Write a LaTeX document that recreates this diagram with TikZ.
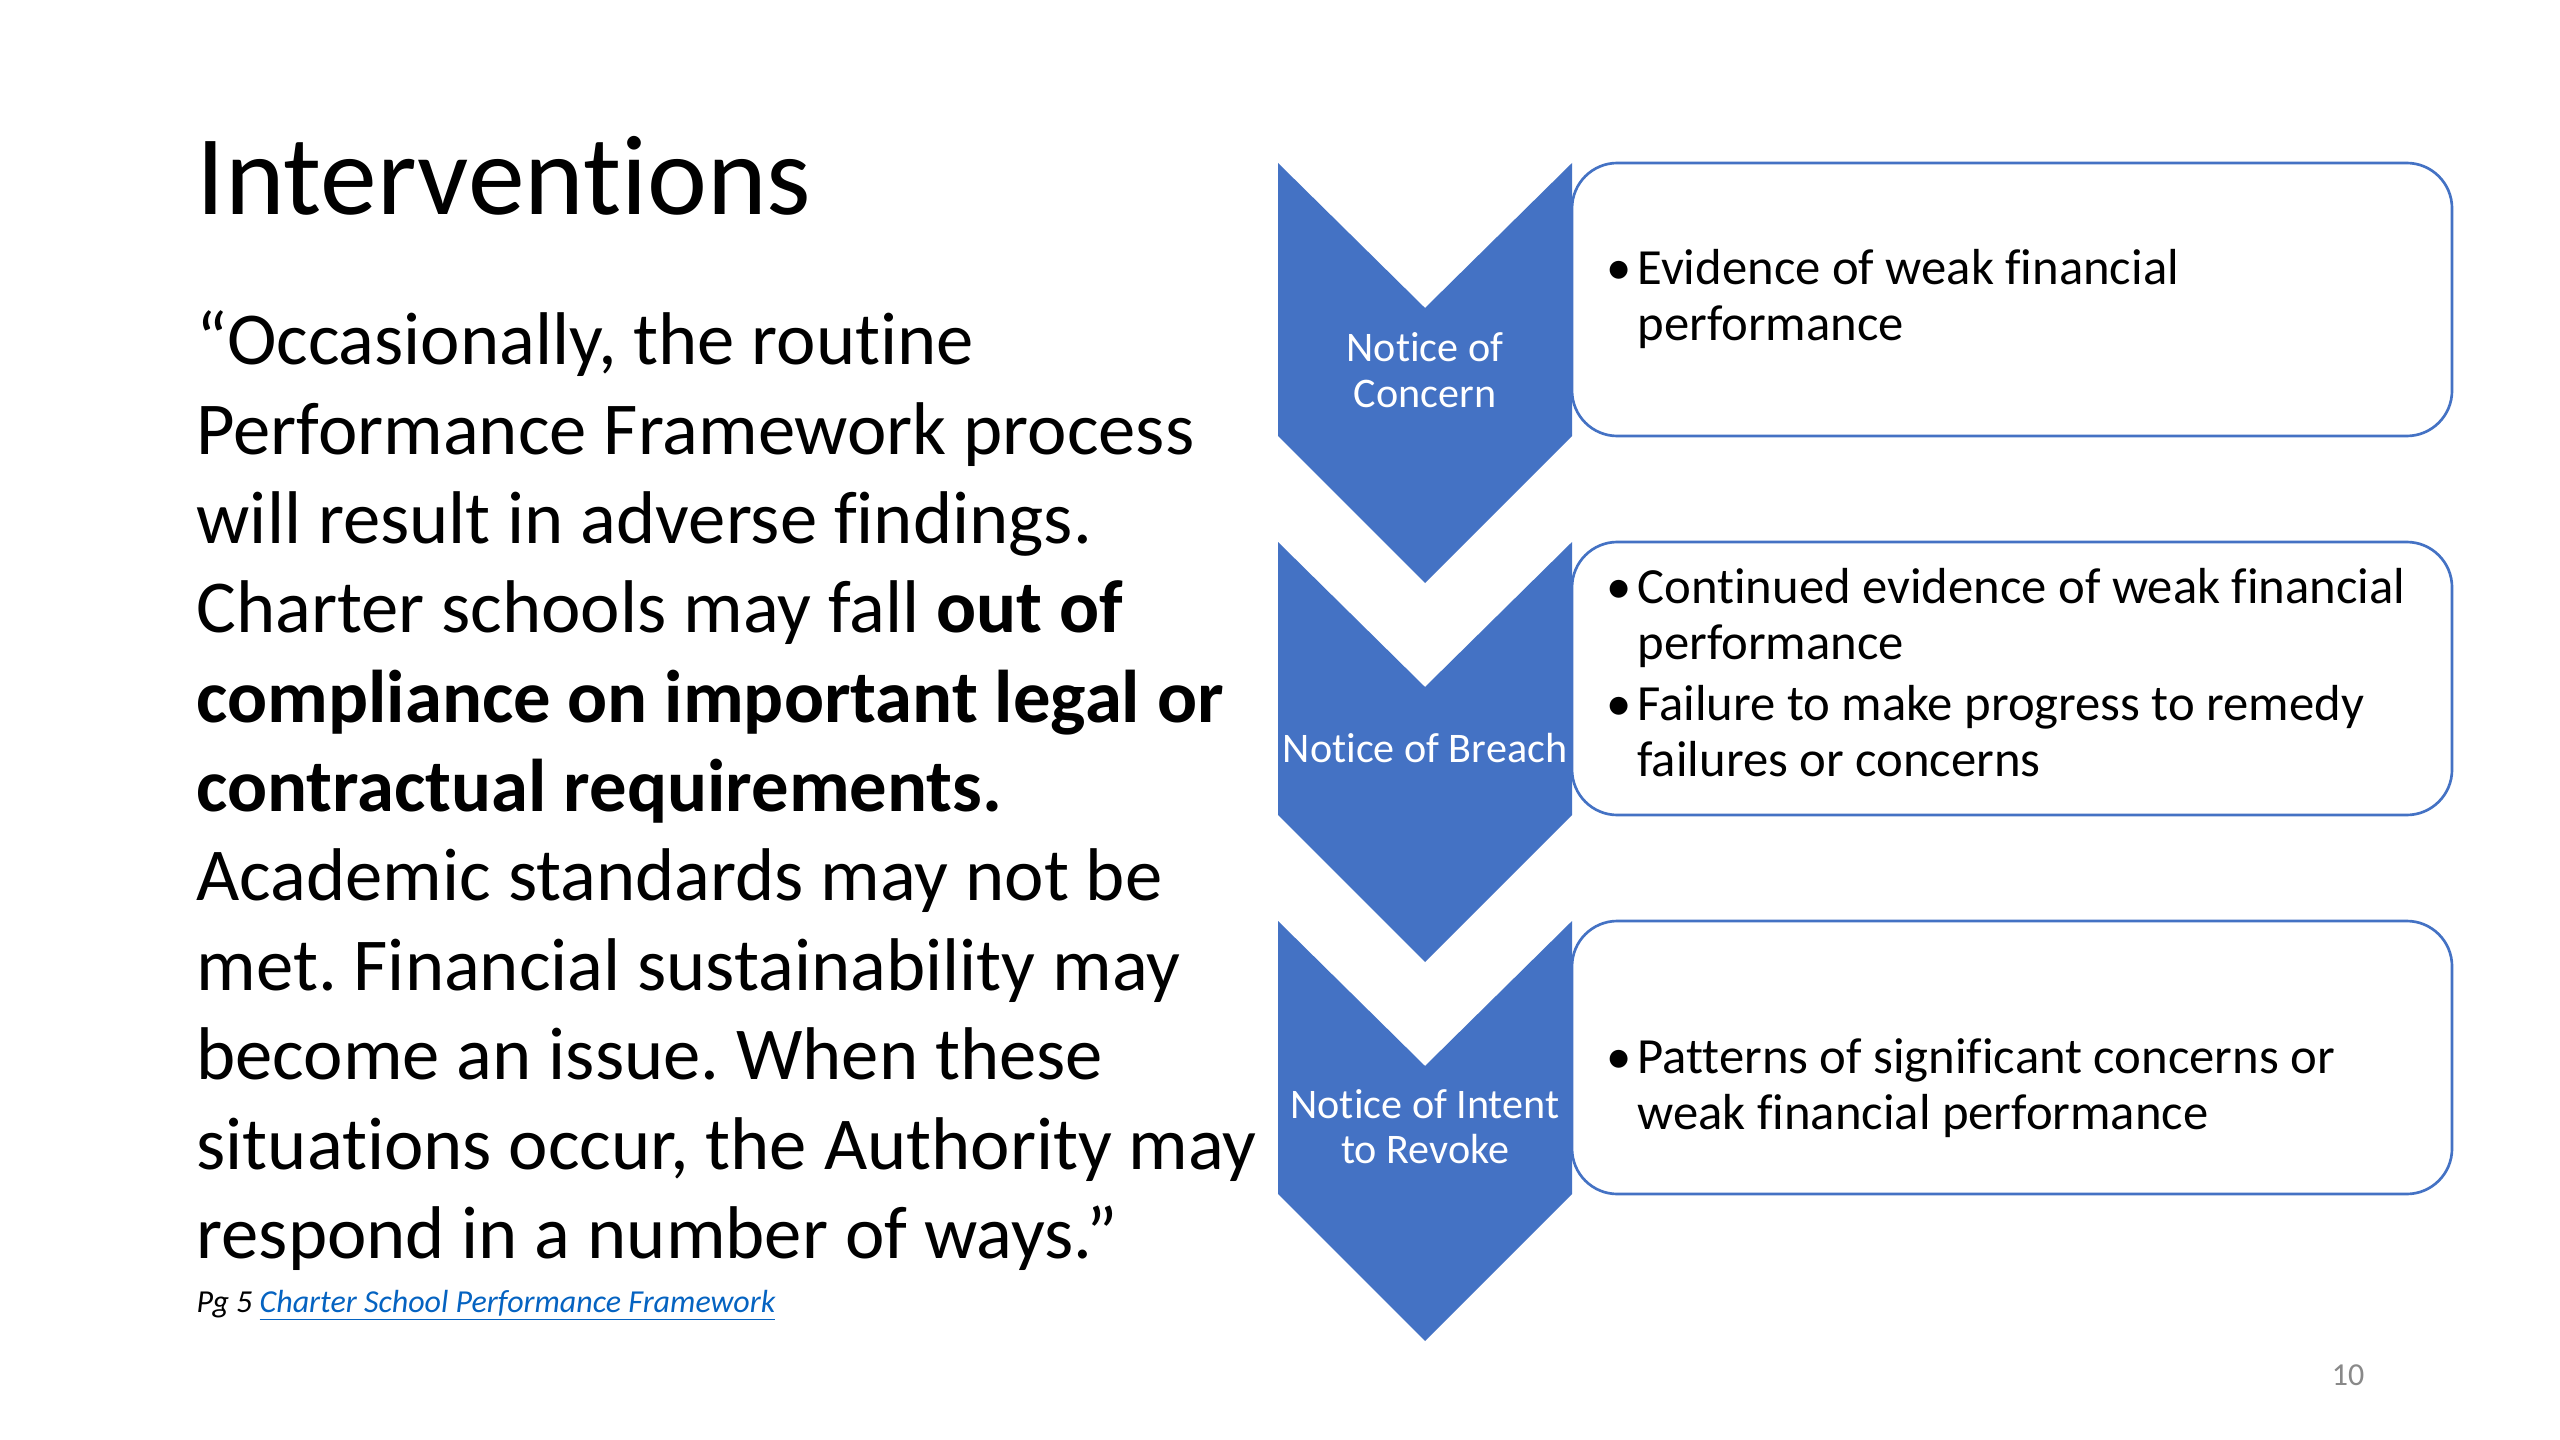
\documentclass[tikz,border=0pt]{standalone}
\usepackage{fontspec}
\setmainfont{Carlito}[Ligatures=NoCommon]
\definecolor{chevblue}{HTML}{4472C4}
\definecolor{linkblue}{HTML}{0563C1}
\definecolor{pagegray}{HTML}{898989}
\frenchspacing
\newcommand{\chevtext}[1]{\parbox[t]{130pt}{\centering\fontsize{15.8}{17}\selectfont #1}}
\newcommand{\bulitem}[1]{\parbox[t]{340pt}{\fontsize{19}{21}\selectfont\hangindent=11.6pt\hangafter=1\noindent\makebox[11.6pt][l]{•}#1}}
\begin{document}
\begin{tikzpicture}[x=0.375pt,y=-0.375pt,
  chevshape/.style={fill=chevblue,draw=none},
  infobox/.style={draw=chevblue,line width=1pt,fill=white,rounded corners=17pt},
  chevlabel/.style={text=white,anchor=base,inner sep=0},
  itemtext/.style={text=black,anchor=base west,inner sep=0},
  plain/.style={anchor=base west,inner sep=0}]
\useasboundingbox[fill=white] (0,0) rectangle (2560,1440);

% title
\node[plain] (title) at (196,215) {\fontsize{42.6}{50}\selectfont Interventions};

% quote
\node[plain] (quote) at (196,365) {\parbox[t]{500pt}{\fontsize{28}{33.5}\selectfont
“Occasionally, the routine\\
Performance Framework process\\
will result in adverse findings.\\
Charter schools may fall \textbf{out of}\\
\textbf{compliance on important legal or}\\
\textbf{contractual requirements.}\\
Academic standards may not be\\
met. Financial sustainability may\\
become an issue. When these\\
situations occur, the Authority may\\
respond in a number of ways.”}};

% source
\node[plain] (source) at (196,1312) {\fontsize{12}{14}\selectfont\itshape Pg 5 \textcolor{linkblue}{\underline{Charter School Performance Framework}}};

% page number
\node[anchor=base,inner sep=0,text=pagegray] (pagenum) at (2348,1385) {\fontsize{12}{14}\selectfont 10};

% boxes and chevrons
\foreach \T/\nm in {163/one,542/two,921/three}{
  \draw[infobox] (1572,\T) -- (2452,\T) -- (2452,\T+273) -- (1572,\T+273) -- cycle;
  \fill[chevshape] (1278,\T) -- (1425,\T+145) -- (1572,\T) -- (1572,\T+273)
     -- (1425,\T+420) -- (1278,\T+273) -- cycle;
}

% chevron labels
\node[chevlabel] (lab1) at (1425,362) {\chevtext{Notice of\\Concern}};
\node[chevlabel] (lab2) at (1425,762) {\chevtext{Notice of Breach}};
\node[chevlabel] (lab3) at (1425,1118) {\chevtext{Notice of Intent\\to Revoke}};

% box texts
\node[itemtext] (it1) at (1606,285) {\bulitem{Evidence of weak financial\\performance}};
\node[itemtext] (it2a) at (1606,603) {\bulitem{Continued evidence of weak financial\\performance}};
\node[itemtext] (it2b) at (1606,720) {\bulitem{Failure to make progress to remedy\\failures or concerns}};
\node[itemtext] (it3) at (1606,1073) {\bulitem{Patterns of significant concerns or\\weak financial performance}};
\end{tikzpicture}
\end{document}
